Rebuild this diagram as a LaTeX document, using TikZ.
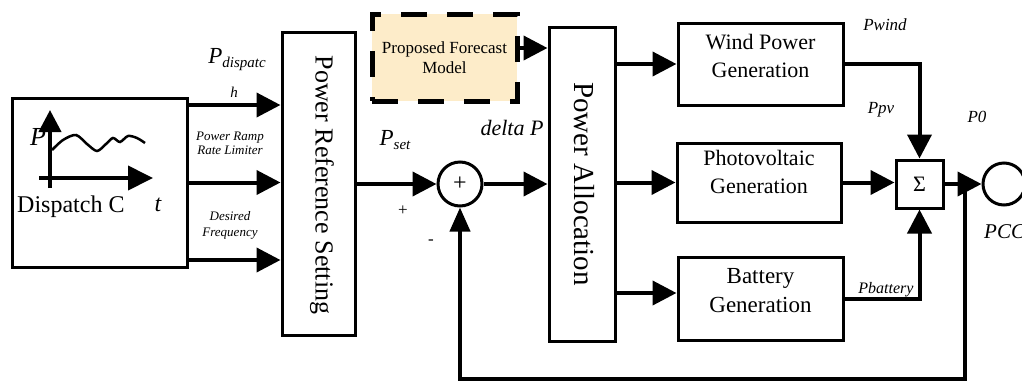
\documentclass[tikz,border=0pt]{standalone}
\usepackage{fontspec}
\setmainfont{Liberation Serif}
\usetikzlibrary{arrows.meta}

\definecolor{fcstfill}{RGB}{253,236,201}
\newcommand{\fsz}[2]{\fontsize{#1}{#2}\selectfont}

\begin{document}
\begin{tikzpicture}[
  x=1pt, y=-1pt,
  block/.style={
    draw,
    rectangle,
    line width=3pt,
    inner sep=0pt
  },
  lbl/.style={
    inner sep=0pt,
    align=center
  },
  flow/.style={
    line width=4pt,
    -{Triangle[length=24pt,width=24pt]}
  }
]
\useasboundingbox (0,0) rectangle (1022,381);

% dispatch curve block
\node[block, minimum width=175pt, minimum height=169pt] (dispatch) at (99.5,182.5) {};
\node[lbl, font=\fsz{26}{26}\itshape] (pax) at (38,137) {P};
\draw[line width=4pt, -{Triangle[length=22pt,width=22pt]}] (50,188) -- (50,110);
\draw[line width=4pt, -{Triangle[length=25pt,width=24pt]}] (39,178) -- (153,178);
\draw[line width=2.5pt] plot[smooth] coordinates {(52,150) (63,140) (76,135) (87,144) (97,151) (106,144) (113,138) (120,142) (128,136) (137,138) (145,143)};
\node[lbl, anchor=west, font=\fsz{24}{24}] (disptxt) at (17,207) {Dispatch C};
\node[lbl, font=\fsz{24}{24}\itshape] (tax) at (158,205) {t};

% reference setting
\node[block, minimum width=73pt, minimum height=303pt] (refset) at (318.5,183.5) {};
\node[lbl, rotate=-90, font=\fsz{26}{26}] (refsettxt) at (322,185) {Power Reference Setting};

\foreach \dy in {77.5,0,-77.5}
  \draw[flow] ([yshift=\dy pt]dispatch.east) coordinate (src) -- (src -| refset.west);

\node[lbl, font=\fsz{23}{23}\itshape] (pdisp) at (237,60) {P\raisebox{-4pt}{\fsz{15}{15}dispatc}};
\node[lbl, font=\fsz{15}{15}\itshape] (hlbl) at (234,92) {h};
\node[lbl, font=\fsz{13}{14}\itshape] (ramp) at (230,143) {Power Ramp\\Rate Limiter};
\node[lbl, font=\fsz{13}{16}\itshape] (freq) at (230,225) {Desired\\Frequency};

% forecast and summing point
\node[block, line width=5pt, dash pattern=on 26pt off 20pt, fill=fcstfill,
  minimum width=145pt, minimum height=87pt, align=center, font=\fsz{17}{20}] (forecast) at (444.5,57.5) {Proposed Forecast\\Model};
\node[draw, circle, line width=3pt, minimum size=44pt, inner sep=0pt, font=\fsz{24}{24}] (sumpt) at (460,184) {+};

\node[lbl, font=\fsz{23}{23}\itshape] (pset) at (395,140) {P\raisebox{-4pt}{\fsz{15}{15}set}};
\node[lbl, font=\fsz{17}{17}] (plus) at (403,211) {+};
\node[lbl, font=\fsz{17}{17}] (minus) at (431,242) {-};
\node[lbl, font=\fsz{22}{22}\itshape] (dltp) at (512,128) {delta P};

% power allocation
\node[block, minimum width=66pt, minimum height=314pt] (alloc) at (582,184) {};
\node[lbl, rotate=-90, font=\fsz{29}{29}] (alloctxt) at (584,184) {Power Allocation};

% generation units
\node[block, minimum width=165pt, minimum height=82pt] (wind) at (760.5,64) {};
\node[lbl, font=\fsz{22}{28}] (windtxt) at (760.5,56) {Wind Power\\Generation};
\node[block, minimum width=164pt, minimum height=79pt] (pv) at (759,182.5) {};
\node[lbl, font=\fsz{22}{28}] (pvtxt) at (759,172) {Photovoltaic\\Generation};
\node[block, minimum width=165pt, minimum height=83pt] (batt) at (760.5,298.5) {};
\node[lbl, font=\fsz{23}{29}] (batttxt) at (760.5,291) {Battery\\Generation};

\node[block, minimum width=47pt, minimum height=48pt, font=\fsz{22}{22}] (sigma) at (919.5,184) {Σ};
\node[draw, circle, line width=3pt, minimum size=42pt, inner sep=0pt] (pcc) at (1004,184) {};

% connectors
\draw[flow] (refset.east |- sumpt.west) -- (sumpt.west);
\draw[flow] (sumpt.east) -- (sumpt.east -| alloc.west);
\draw[flow] ([yshift=9.5pt]forecast.east) coordinate (fo) -- (fo -| alloc.west);
\draw[flow] (wind.west -| alloc.east) -- (wind.west);
\draw[flow] (pv.west -| alloc.east) -- (pv.west);
\coordinate (bi) at ([yshift=5.5pt]batt.west);
\draw[flow] (bi -| alloc.east) -- (bi);
\draw[flow] (wind.east) -| (sigma.north);
\draw[flow] (pv.east) -- (pv.east -| sigma.west);
\draw[flow] (batt.east) -| (sigma.south);
\draw[flow] (sigma.east) -- (pcc.west);
\coordinate (tap) at (965,184);
\coordinate (fbot) at (460,379);
\draw[line width=4pt, -{Triangle[length=24pt,width=20pt]}] (tap) |- (fbot) -- (sumpt.south);

\node[lbl, font=\fsz{17}{17}\itshape] (pwind) at (885,25) {Pwind};
\node[lbl, font=\fsz{17}{17}\itshape] (ppv) at (881,110) {Ppv};
\node[lbl, font=\fsz{17}{17}\itshape] (pzero) at (977,117) {P0};
\node[lbl, font=\fsz{16}{16}\itshape] (pbatt) at (886,290) {Pbattery};
\node[lbl, anchor=west, font=\fsz{21}{21}\itshape] (pcctxt) at (984,232) {PCC};
\end{tikzpicture}
\end{document}
